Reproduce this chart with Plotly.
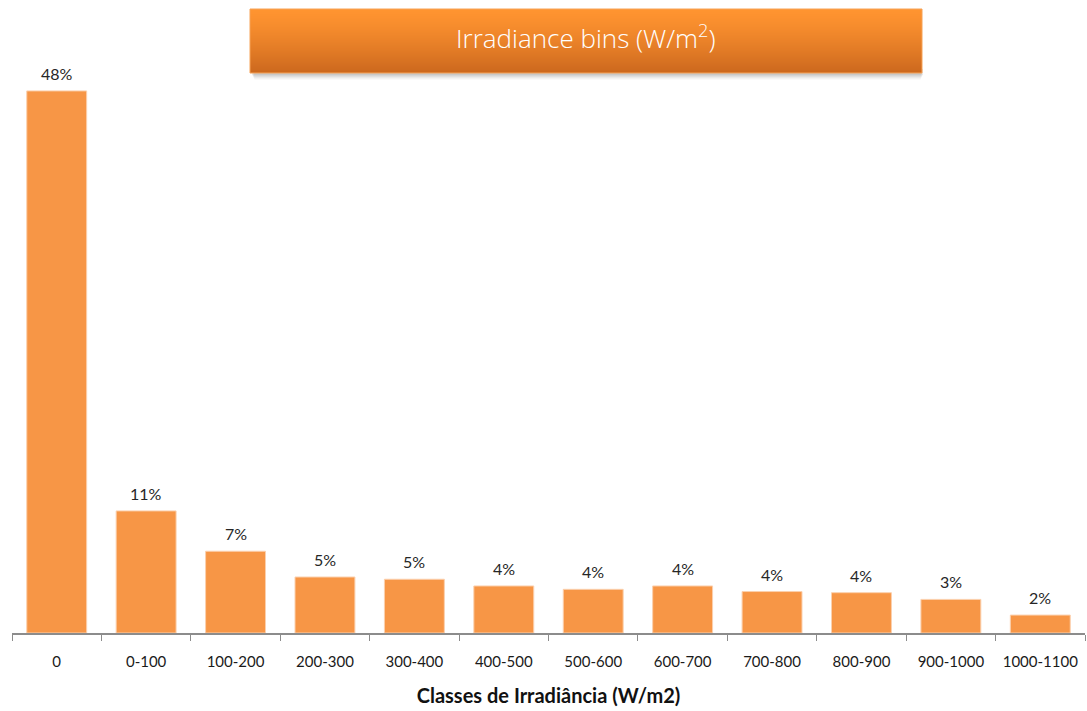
import plotly.graph_objects as go

# Irradiance classes (W/m2) and share of time in each class
categories = ["0", "0-100", "100-200", "200-300", "300-400", "400-500",
              "500-600", "600-700", "700-800", "800-900", "900-1000", "1000-1100"]
shares = [0.484, 0.109, 0.073, 0.050, 0.048, 0.042,
          0.039, 0.042, 0.037, 0.036, 0.030, 0.016]

banner_title = "Irradiance bins (W/m<sup>2</sup>)"
axis_title = "Classes de Irradiância (W/m2)"

W, H = 1087, 711
ML, MR, MT, MB = 12, 2, 0, 78
plot_h = H - MT - MB
LABEL_FONT = "Lato, Open Sans, sans-serif"

fig = go.Figure()
fig.add_trace(go.Bar(
    x=categories,
    y=shares,
    marker=dict(color="#F79646", line=dict(color="#FBD0AE", width=1)),
    hoverinfo="skip",
))

# value labels above each bar, formatted from the same shares
value_labels = [dict(
    x=c, y=v, xref="x", yref="y", text=f"{v:.0%}",
    xanchor="center", yanchor="bottom", yshift=6, showarrow=False,
    font=dict(family=LABEL_FONT, size=16, color="#262626"),
) for c, v in zip(categories, shares)]

# banner box with vertical gradient and a soft drop shadow (paper coords)
def px_x(px):
    return (px - ML) / (W - ML - MR)

def px_y(py):
    return (H - MB - py) / plot_h

shapes = []
bx0, bx1, by0, by1 = 250, 922, 9, 73
for i in range(6):
    off = 2 + i
    shapes.append(dict(type="rect", xref="paper", yref="paper",
                       x0=px_x(bx0 + 2 + i * 0.5), x1=px_x(bx1 + 1 - i * 0.5),
                       y0=px_y(by1 + off), y1=px_y(by1 - 4),
                       fillcolor="rgba(90,90,90,%.3f)" % (0.09 - i * 0.012),
                       line=dict(width=0), layer="above"))
top_rgb = (255, 148, 48)
bot_rgb = (204, 104, 30)
n = by1 - by0
for i in range(n):
    t = (i / (n - 1)) ** 1.3
    rgb = tuple(round(a + (b - a) * t) for a, b in zip(top_rgb, bot_rgb))
    ya = by0 + i
    yb = min(by0 + i + 2, by1)
    shapes.append(dict(type="rect", xref="paper", yref="paper",
                       x0=px_x(bx0), x1=px_x(bx1), y0=px_y(yb), y1=px_y(ya),
                       fillcolor="rgb(%d,%d,%d)" % rgb,
                       line=dict(width=0), layer="above"))
shapes.append(dict(type="rect", xref="paper", yref="paper",
                   x0=px_x(bx0), x1=px_x(bx1), y0=px_y(by1), y1=px_y(by0),
                   fillcolor="rgba(0,0,0,0)",
                   line=dict(color="#F6A257", width=1), layer="above"))

banner_label = dict(
    text=banner_title, xref="paper", yref="paper",
    x=px_x((bx0 + bx1) / 2), y=px_y((by0 + by1) / 2 - 4),
    xanchor="center", yanchor="middle", showarrow=False,
    font=dict(family="Open Sans, sans-serif", size=26, color="white", weight=300),
)

fig.update_layout(
    width=W, height=H,
    margin=dict(l=ML, r=MR, t=MT, b=MB, autoexpand=False),
    paper_bgcolor="white", plot_bgcolor="white",
    bargap=0.33,
    showlegend=False,
    shapes=shapes,
    annotations=value_labels + [banner_label],
    xaxis=dict(
        type="category",
        showline=True, linecolor="#8C8C8C", linewidth=1.5,
        ticks="outside", tickson="boundaries", ticklen=6,
        tickcolor="#8C8C8C", tickwidth=1,
        ticklabelstandoff=14,
        showgrid=False,
        tickfont=dict(family=LABEL_FONT, size=15, color="#1a1a1a"),
        title=dict(text="<b>" + axis_title + "</b>", standoff=20,
                   font=dict(family=LABEL_FONT, size=20, color="#111")),
    ),
    yaxis=dict(
        visible=False,
        range=[0, plot_h / 1120.0],
        fixedrange=True,
    ),
)

fig.write_html("out.html")
